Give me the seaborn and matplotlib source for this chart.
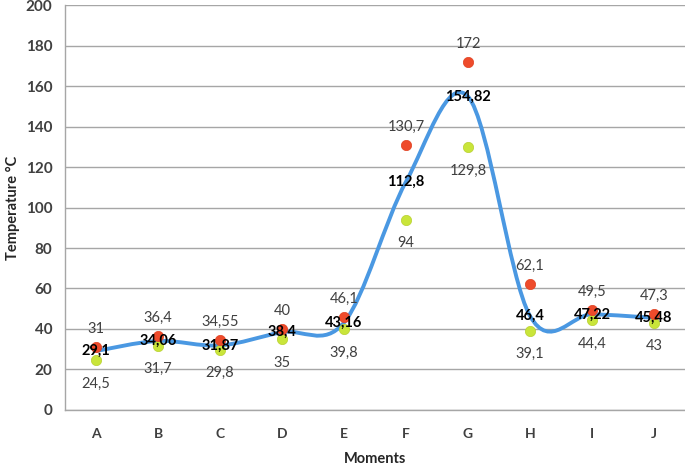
import numpy as np
import pandas as pd
import matplotlib
matplotlib.use("Agg")
import matplotlib.pyplot as plt
from matplotlib.path import Path
from matplotlib.patches import PathPatch
import seaborn as sns

# chart data
moments = ['A', 'B', 'C', 'D', 'E', 'F', 'G', 'H', 'I', 'J']
t_max = [31, 36.4, 34.55, 40, 46.1, 130.7, 172, 62.1, 49.5, 47.3]
t_min = [24.5, 31.7, 29.8, 35, 39.8, 94, 129.8, 39.1, 44.4, 43]
t_mean = [29.1, 34.06, 31.87, 38.4, 43.16, 112.8, 154.82, 46.4, 47.22, 45.48]
y_ticks = [0, 20, 40, 60, 80, 100, 120, 140, 160, 180, 200]

RED = '#EE4B2B'
GREEN = '#C9E53A'
BLUE = '#4A98E2'
GRID = '#A6A6A6'
TEXT = '#404040'


def fmt(v):
    """Format a number with a decimal comma, like the original."""
    s = ('%g' % v)
    return s.replace('.', ',')


def smooth_path(x, y):
    """Excel-like smoothed line as cubic Bezier segments through the points."""
    pts = np.column_stack([x, y]).astype(float)
    n = len(pts)
    verts = [pts[0]]
    codes = [Path.MOVETO]
    for i in range(n - 1):
        p0 = pts[i - 1] if i > 0 else pts[i]
        p1 = pts[i]
        p2 = pts[i + 1]
        p3 = pts[i + 2] if i + 2 < n else pts[i + 1]
        c1 = p1 + (p2 - p0) / 6.0
        c2 = p2 - (p3 - p1) / 6.0
        verts += [c1, c2, p2]
        codes += [Path.CURVE4] * 3
    return Path(verts, codes)


df = pd.DataFrame({'moment': moments, 'max': t_max, 'min': t_min, 'mean': t_mean})
df['x'] = np.arange(len(df))

sns.set_style('white')
plt.rcParams['font.family'] = ['Lato', 'DejaVu Sans']

fig = plt.figure(figsize=(6.85, 4.69), dpi=100)
ax = fig.add_axes([0.095, 0.126, 0.905, 0.863])

# mean line (smoothed)
ax.add_patch(PathPatch(smooth_path(df['x'], df['mean']), facecolor='none',
                       edgecolor=BLUE, lw=2.8, zorder=3, capstyle='round'))

sns.scatterplot(data=df, x='x', y='min', color=GREEN, s=55, edgecolor='#B8D030',
                linewidth=0.5, zorder=4, ax=ax, legend=False)
sns.scatterplot(data=df, x='x', y='max', color=RED, s=55, edgecolor='#E04020',
                linewidth=0.5, zorder=4, ax=ax, legend=False)

for _, r in df.iterrows():
    ax.annotate(fmt(r['max']), (r['x'], r['max']), xytext=(0, 13), textcoords='offset points',
                ha='center', va='center', fontsize=10.5, color=TEXT, zorder=5)
    ax.annotate(fmt(r['min']), (r['x'], r['min']), xytext=(0, -17), textcoords='offset points',
                ha='center', va='center', fontsize=10.5, color=TEXT, zorder=5)
    ax.annotate(fmt(r['mean']), (r['x'], r['mean']), xytext=(0, 0), textcoords='offset points',
                ha='center', va='center', fontsize=10.5, color='black', fontweight='bold', zorder=6)

ax.set_xlim(-0.5, len(moments) - 0.5)
ax.set_ylim(0, 200)
ax.set_yticks(y_ticks)
ax.set_yticklabels([str(t) for t in y_ticks], fontweight='bold', fontsize=11, color=TEXT)
ax.set_xticks(df['x'])
ax.set_xticklabels(moments, fontweight='bold', fontsize=10, color=TEXT)
ax.set_xticks(np.arange(-0.5, len(moments)), minor=True)
ax.tick_params(axis='x', which='major', length=0, pad=13)
ax.tick_params(axis='x', which='minor', length=5, color=GRID, direction='out')
ax.tick_params(axis='y', length=5, color=GRID, direction='out', pad=4)

ax.grid(axis='y', color=GRID, lw=1)
ax.set_axisbelow(True)
for side in ['top', 'right']:
    ax.spines[side].set_visible(False)
for side in ['left', 'bottom']:
    ax.spines[side].set_color(GRID)
    ax.spines[side].set_linewidth(1)

ax.set_xlabel('Moments', fontweight='bold', fontsize=10.5, color='#262626', labelpad=9)
ax.set_ylabel('Temperature °C', fontweight='bold', fontsize=10.5, color='#262626', labelpad=4)

fig.savefig('out.png', dpi=100)
